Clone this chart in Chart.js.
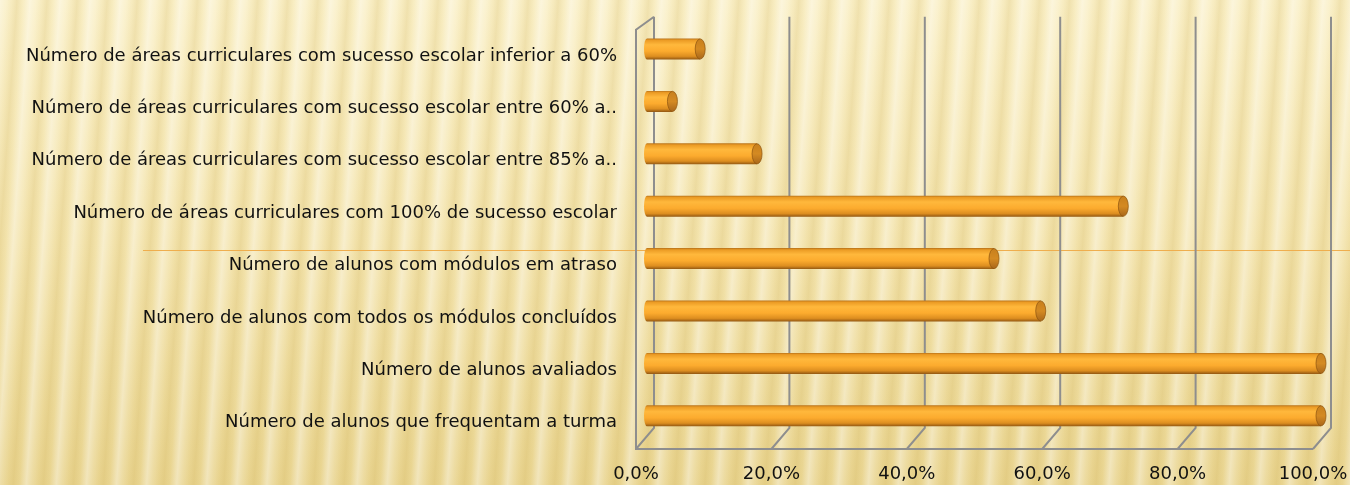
<!DOCTYPE html>
<html>
<head>
<meta charset="utf-8">
<title>Indicadores da turma</title>
<script src="https://cdn.jsdelivr.net/npm/chart.js@4.4.0/dist/chart.umd.min.js"></script>
<style>
  html, body { margin: 0; padding: 0; }
  body {
    width: 1350px;
    height: 485px;
    overflow: hidden;
    position: relative;
    background:
      repeating-linear-gradient(94deg,
        rgba(255,255,255,0.36) 0px,
        rgba(255,255,255,0.12) 6px,
        rgba(205,170,70,0.08) 12px,
        rgba(195,160,60,0.18) 17px,
        rgba(215,185,90,0.06) 23px,
        rgba(255,255,255,0.36) 30px),
      linear-gradient(180deg, #faf0c8 0%, #f4e5b0 50%, #ead693 100%);
  }
  #rule {
    position: absolute;
    left: 143px; right: 0; top: 250px;
    height: 1px;
    background: #efae4e;
  }
  #wrap { position: absolute; left: 0; top: 0; width: 1350px; height: 485px; }
</style>
</head>
<body>
<div id="rule"></div>
<div id="wrap"><canvas id="chart" width="1350" height="485"></canvas></div>
<script>
// categorias (de cima para baixo) e percentagens
const categories = [
  "Número de áreas curriculares com sucesso escolar inferior a 60%",
  "Número de áreas curriculares com sucesso escolar entre 60% a..",
  "Número de áreas curriculares com sucesso escolar entre 85% a..",
  "Número de áreas curriculares com 100% de sucesso escolar",
  "Número de alunos com módulos em atraso",
  "Número de alunos com todos os módulos concluídos",
  "Número de alunos avaliados",
  "Número de alunos que frequentam a turma"
];
const percentValues = [8.3, 4.2, 16.7, 70.8, 51.7, 58.6, 100, 100];
const xTicks = [0, 20, 40, 60, 80, 100];

// profundidade do efeito 3D
const DEPTH_X = 18;
const DEPTH_TOP = 13;
const DEPTH_BOTTOM = 21;
const BAR_DX = 8;
const BAR_DY = -7;

const FONT = { family: "'DejaVu Sans', sans-serif", size: 18 };

// paredes e grelha em perspetiva
const wallPlugin = {
  id: "wall3d",
  beforeDatasetsDraw(chart) {
    const { ctx, chartArea, scales } = chart;
    const top = chartArea.top, bottom = chartArea.bottom;
    ctx.save();
    ctx.strokeStyle = "#8e8e8e";
    ctx.lineWidth = 2;
    ctx.lineJoin = "miter";
    ctx.beginPath();
    xTicks.forEach(v => {
      const fx = scales.x.getPixelForValue(v);
      ctx.moveTo(fx + DEPTH_X, top - DEPTH_TOP);
      ctx.lineTo(fx + DEPTH_X, bottom - DEPTH_BOTTOM);
      ctx.lineTo(fx, bottom);
    });
    // parede esquerda
    const x0 = scales.x.getPixelForValue(0);
    ctx.moveTo(x0 + DEPTH_X, top - DEPTH_TOP);
    ctx.lineTo(x0, top);
    ctx.lineTo(x0, bottom);
    // aresta da base
    ctx.lineTo(scales.x.getPixelForValue(100), bottom);
    ctx.stroke();
    ctx.restore();
  },
  afterDatasetsDraw(chart) {
    const { ctx } = chart;
    const meta = chart.getDatasetMeta(0);
    ctx.save();
    meta.data.forEach(bar => {
      const p = bar.getProps(["x", "y", "base", "height"], true);
      const x0 = p.base + BAR_DX;
      const x1 = p.x + BAR_DX;
      const yc = p.y + BAR_DY;
      const h = p.height;
      const ry = h / 2;
      const rxL = 3, rxR = 5;

      // corpo do cilindro
      const g = ctx.createLinearGradient(0, yc - ry, 0, yc + ry);
      g.addColorStop(0, "#b8721a");
      g.addColorStop(0.08, "#eb9b24");
      g.addColorStop(0.3, "#ffb83c");
      g.addColorStop(0.6, "#fcab2e");
      g.addColorStop(0.85, "#dd8e20");
      g.addColorStop(1, "#935812");
      ctx.fillStyle = g;
      ctx.beginPath();
      ctx.moveTo(x1, yc - ry);
      ctx.lineTo(x0 + rxL, yc - ry);
      ctx.ellipse(x0 + rxL, yc, rxL, ry, 0, -Math.PI / 2, Math.PI / 2, true);
      ctx.lineTo(x1, yc + ry);
      ctx.closePath();
      ctx.fill();

      // tampa
      const gc = ctx.createLinearGradient(0, yc - ry, 0, yc + ry);
      gc.addColorStop(0, "#c77f1c");
      gc.addColorStop(0.5, "#d48a22");
      gc.addColorStop(1, "#a8661a");
      ctx.fillStyle = gc;
      ctx.strokeStyle = "rgba(140,82,14,0.7)";
      ctx.lineWidth = 1;
      ctx.beginPath();
      ctx.ellipse(x1, yc, rxR, ry - 0.4, 0, 0, Math.PI * 2);
      ctx.fill();
      ctx.stroke();
    });
    ctx.restore();
  }
};

new Chart(document.getElementById("chart"), {
  type: "bar",
  data: {
    labels: categories,
    datasets: [{
      data: percentValues,
      backgroundColor: "rgba(0,0,0,0)",
      borderWidth: 0,
      categoryPercentage: 1,
      barPercentage: 0.4
    }]
  },
  options: {
    indexAxis: "y",
    responsive: false,
    animation: false,
    layout: { padding: { top: 27, right: 37, left: 0, bottom: 0 } },
    plugins: { legend: { display: false }, tooltip: { enabled: false } },
    scales: {
      x: {
        min: 0, max: 100,
        afterBuildTicks: scale => { scale.ticks = xTicks.map(v => ({ value: v })); },
        afterFit: scale => {
          scale.height = 36;
          scale.paddingLeft = 0;
          scale.paddingRight = 0;
        },
        grid: { display: false, drawTicks: false },
        border: { display: false },
        ticks: {
          padding: 15,
          color: "#111",
          font: FONT,
          maxRotation: 0,
          callback: v => v.toFixed(1).replace(".", ",") + "%"
        }
      },
      y: {
        afterFit: scale => { scale.width = 636; },
        grid: { display: false, drawTicks: false },
        border: { display: false },
        ticks: { padding: 19, color: "#111", font: FONT, autoSkip: false }
      }
    }
  },
  plugins: [wallPlugin]
});
</script>
</body>
</html>
